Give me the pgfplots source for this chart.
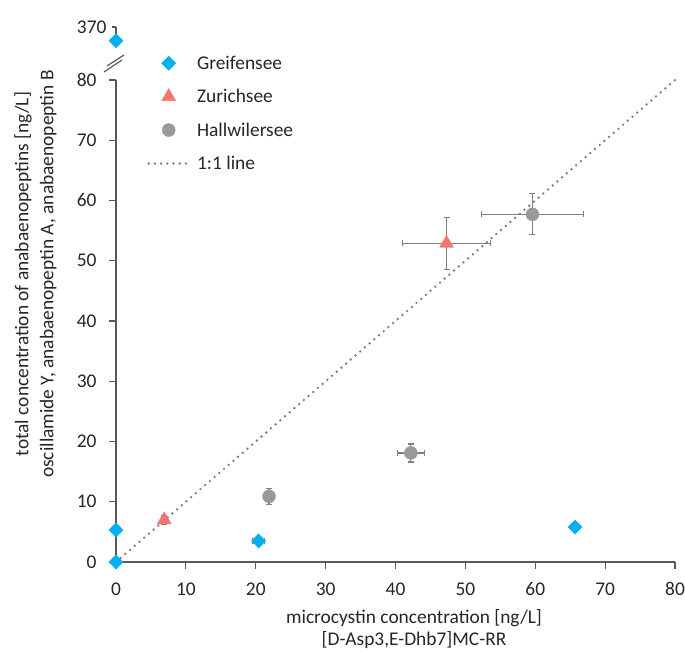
\documentclass[border=0pt]{standalone}
\usepackage{fontspec}
\setmainfont{Carlito}
\usepackage{pgfplots}
\pgfplotsset{compat=1.18}

\definecolor{greif}{HTML}{00B0F0}
\definecolor{zuri}{HTML}{F2766E}
\definecolor{hall}{HTML}{999999}
\definecolor{errc}{HTML}{808080}
\definecolor{axc}{HTML}{595959}
\definecolor{txt}{HTML}{262626}

\newcommand{\cf}{\fontsize{19.4}{23}\selectfont}

\pgfplotsset{
  myax/.style={
    scale only axis, width=559pt, clip=false,
    xmin=0, xmax=80,
    axis line style={axc, line width=1.2pt},
    tick style={axc, line width=1.2pt},
    tick align=outside, major tick length=7pt,
    tick label style={font=\cf, color=txt},
    /pgf/number format/assume math mode=true,
  },
  ebars/.style={
    error bars/.cd, x dir=both, x explicit, y dir=both, y explicit,
    error bar style={errc, line width=1.2pt},
    error mark options={rotate=90, errc, mark size=3pt, line width=1.2pt},
  },
  greifmark/.style={only marks, mark=square*, mark size=5pt, mark options={greif, draw=greif, rotate=45}},
}

\begin{document}
\begin{tikzpicture}
\path[use as bounding box] (-116pt,-89pt) rectangle (569pt,562pt);

\begin{axis}[myax,
  at={(0pt,0pt)}, anchor=south west,
  height=482pt,
  ymin=0, ymax=80,
  axis x line*=bottom, axis y line*=left,
  xtick={0,10,...,80}, ytick={0,10,...,80},
  xticklabel style={yshift=-10pt},
  yticklabel style={xshift=-9pt},
  legend style={draw=none, fill=none, font=\cf, text=txt,
    at={(axis description cs:0.0504,1.059)}, anchor=north west,
    row sep=14.5pt, cells={anchor=west},
    /tikz/every odd column/.append style={column sep=5pt}},
  legend image code/.code={\draw[mark repeat=2,mark phase=2,#1] plot coordinates {(0pt,0pt) (20pt,0pt) (40pt,0pt)};},
]
\addplot[greifmark, ebars]
  table[x=x, y=y, x error=ex, y error=ey] {
  x    y    ex   ey
  0    0    0.5  0
  0    5.3  0.6  0.3
  20.4 3.5  0.8  0.3
  65.7 5.8  0.6  0.4
};
\addlegendentry{Greifensee}
\addplot[only marks, mark=triangle*, mark size=8pt, mark options={zuri, draw=zuri}, ebars]
  table[x=x, y=y, x error=ex, y error=ey] {
  x    y    ex   ey
  6.9  7.0  0.4  0.7
  47.3 52.9 6.3  4.3
};
\addlegendentry{Zurichsee}
\addplot[only marks, mark=*, mark size=6.5pt, mark options={hall, draw=hall}, ebars]
  table[x=x, y=y, x error=ex, y error=ey] {
  x    y    ex   ey
  21.9 10.9 0.4  1.35
  42.2 18.1 1.9  1.5
  59.6 57.7 7.3  3.4
};
\addlegendentry{Hallwilersee}
\addplot[errc, line width=2.7pt, line cap=round, dash pattern=on 0pt off 6.2pt]
  coordinates {(0,0) (80,80)};
\addlegendentry{1:1 line}
\end{axis}

% upper part of the broken y axis
\begin{axis}[myax,
  at={(0pt,520pt)}, anchor=south west,
  height=15pt,
  ymin=364, ymax=370,
  axis x line=none, axis y line*=left,
  ytick={370}, major tick length=4pt,
  yticklabel style={xshift=-2pt},
]
\addplot[greifmark, ebars]
  table[x=x, y=y, x error=ex, y error=ey] {
  x    y     ex   ey
  0    364.5 0.5  0
};
\end{axis}

% axis break marks
\draw[axc, line width=1.2pt] (-12pt,490pt) -- (6pt,502pt);
\draw[axc, line width=1.2pt] (-9pt,496pt) -- (8pt,507pt);

\node[font=\fontsize{19.4}{25}\selectfont, text=txt, rotate=90, align=center] at (-80.5pt,288pt)
  {total concentration of anabaenopeptins [ng/L]\\oscillamide Y, anabaenopeptin A, anabaenopeptin B};
\node[font=\fontsize{19.4}{21.5}\selectfont, text=txt, align=center] at (298pt,-67pt)
  {microcystin concentration [ng/L]\\{}[D-Asp3,E-Dhb7]MC-RR};
\end{tikzpicture}
\end{document}
